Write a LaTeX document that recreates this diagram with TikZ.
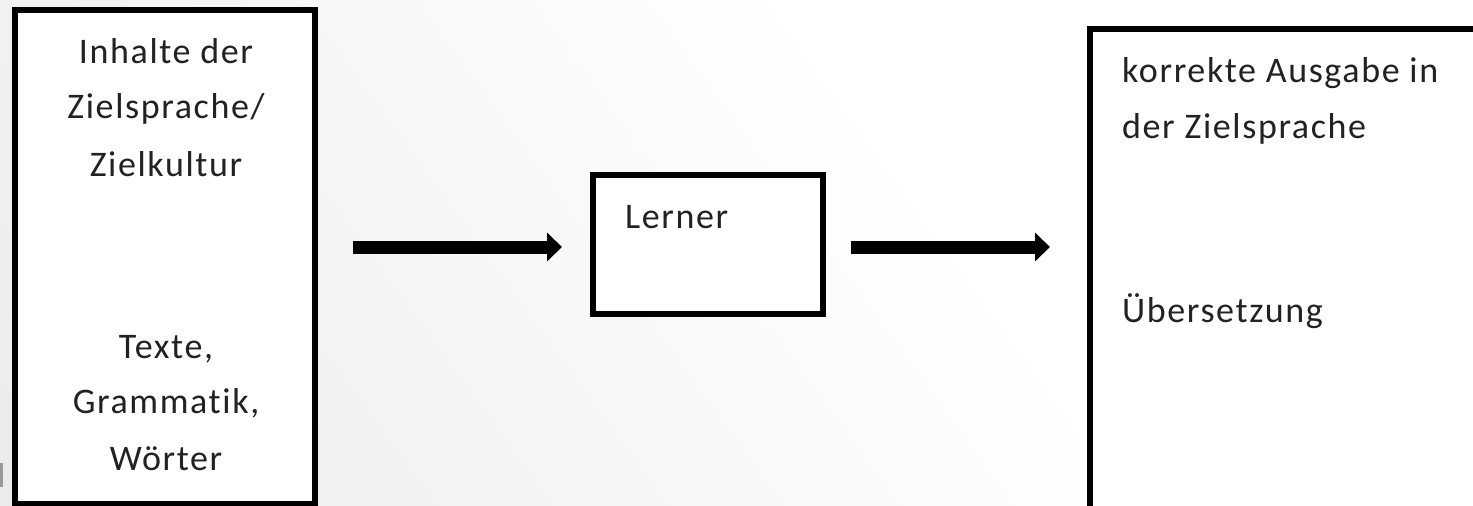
\documentclass[tikz,border=0pt]{standalone}
\usepackage{fontspec}
\setmainfont{Carlito}[LetterSpace=4.5,Ligatures={NoCommon}]
\usetikzlibrary{arrows.meta}
\definecolor{txt}{HTML}{222222}
\definecolor{bgg}{HTML}{E4E4E4}
\pgfdeclarehorizontalshading{bgshade}{100bp}{color(0bp)=(bgg); color(59bp)=(white); color(100bp)=(white)}
\begin{document}
\begin{tikzpicture}[x=1pt,y=-1pt,
  box/.style={draw=black,line width=6pt,fill=white,inner sep=0pt},
  lbl/.style={anchor=base,inner sep=0pt,text=txt,font=\fontsize{36}{40}\selectfont},
  bigarrow/.style={line width=13pt,-{Triangle[length=15pt,width=28pt]}}]
\useasboundingbox (0,0) rectangle (1473,506);
\shade[shading=bgshade,shading angle=36] (0,0) rectangle (1473,506);
% boxes
\node[box,minimum width=300pt,minimum height=494pt] (lbox) at (165,257) {};
\node[box,minimum width=230pt,minimum height=139pt] (mbox) at (708,244.5) {};
\node[box,minimum width=400pt,minimum height=485pt] (rbox) at (1290,271.5) {};
% small cut-off fragment at the bottom left
\fill[gray!80] (0,463) rectangle (3,487);
% left box text
\node[lbl] (l1) at (166,63) {Inhalte der};
\node[lbl] (l2) at (166,118) {Zielsprache/};
\node[lbl] (l3) at (166,176) {Zielkultur};
\node[lbl] (l4) at (166,358) {Texte,};
\node[lbl] (l5) at (166,413) {Grammatik,};
\node[lbl] (l6) at (166,470) {Wörter};
% middle
\node[lbl,anchor=base west] (m1) at (625,228) {Lerner};
% right
\node[lbl,anchor=base west] (r1) at (1122,82) {korrekte Ausgabe in};
\node[lbl,anchor=base west] (r2) at (1122,138) {der Zielsprache};
\node[lbl,anchor=base west] (r3) at (1122,322) {Übersetzung};
% arrows
\draw[bigarrow] ([xshift=35pt]lbox.east |- 0,247) -- ([xshift=-28pt]mbox.west |- 0,247);
\draw[bigarrow] ([xshift=25pt]mbox.east |- 0,247) -- ([xshift=-37pt]rbox.west |- 0,247);
\end{tikzpicture}
\end{document}
